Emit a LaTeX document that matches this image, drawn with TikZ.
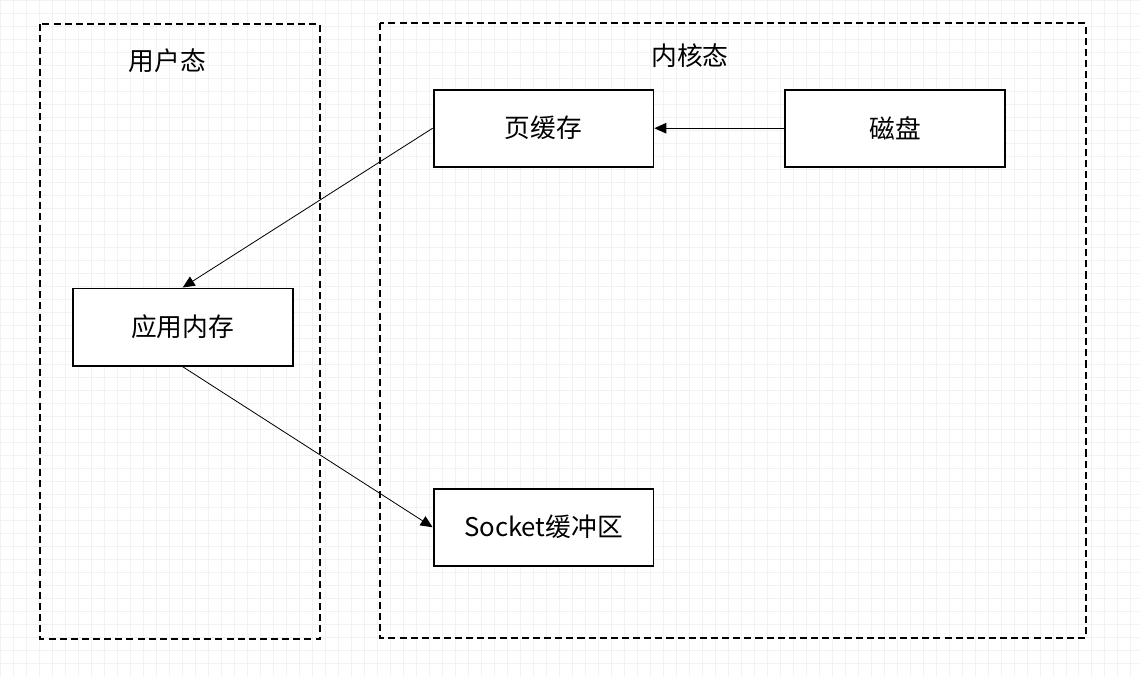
\documentclass[tikz,border=0pt]{standalone}
\usepackage{fontspec}
\setmainfont{Noto Sans CJK SC}
\usetikzlibrary{positioning, arrows.meta}

\begin{document}
\begin{tikzpicture}[
		x=0.03cm, y=-0.03cm,
		region/.style={draw, line width=1.5pt, dash pattern=on 6pt off 3.5pt},
		box/.style={rectangle, draw, line width=1.6pt, fill=white, minimum width=6.6cm, minimum height=2.32cm, inner sep=0pt, font=\fontsize{22}{26}\selectfont},
		label/.style={font=\fontsize{22}{26}\selectfont},
		arrow/.style={line width=0.7pt, -{Triangle[length=3.6mm, width=3.2mm]}}
		]
		
		% Background and grid
		\fill[white] (0,0) rectangle (1139,676);
		\draw[black!5, line width=0.5pt, step=0.39cm] (0,0) grid (1139,676);
		\useasboundingbox (0,0) rectangle (1139,676);
		
		% Regions
		\draw[region] (40,24) rectangle (320,639);
		\draw[region] (380,23) rectangle (1086,638);
		\node (userlbl) [label] at (167,60) {用户态};
		\node (kernlbl) [label] at (690,55) {内核态};
		
		% Nodes
		\node (pagecache) [box] at (543.5,128) {页缓存};
		\node (disk) [box, right=3.9cm of pagecache] {磁盘};
		\node (appmem) [box] at (182.5,327) {应用内存};
		\node (sockbuf) [box, below=9.6cm of pagecache] {Socket缓冲区};
		
		% Arrows
		\draw [arrow] (disk) -- (pagecache);
		\draw [arrow] (pagecache.west) -- (appmem.north);
		\draw [arrow] (appmem.south) -- (sockbuf.west);
		
	\end{tikzpicture}
\end{document}
